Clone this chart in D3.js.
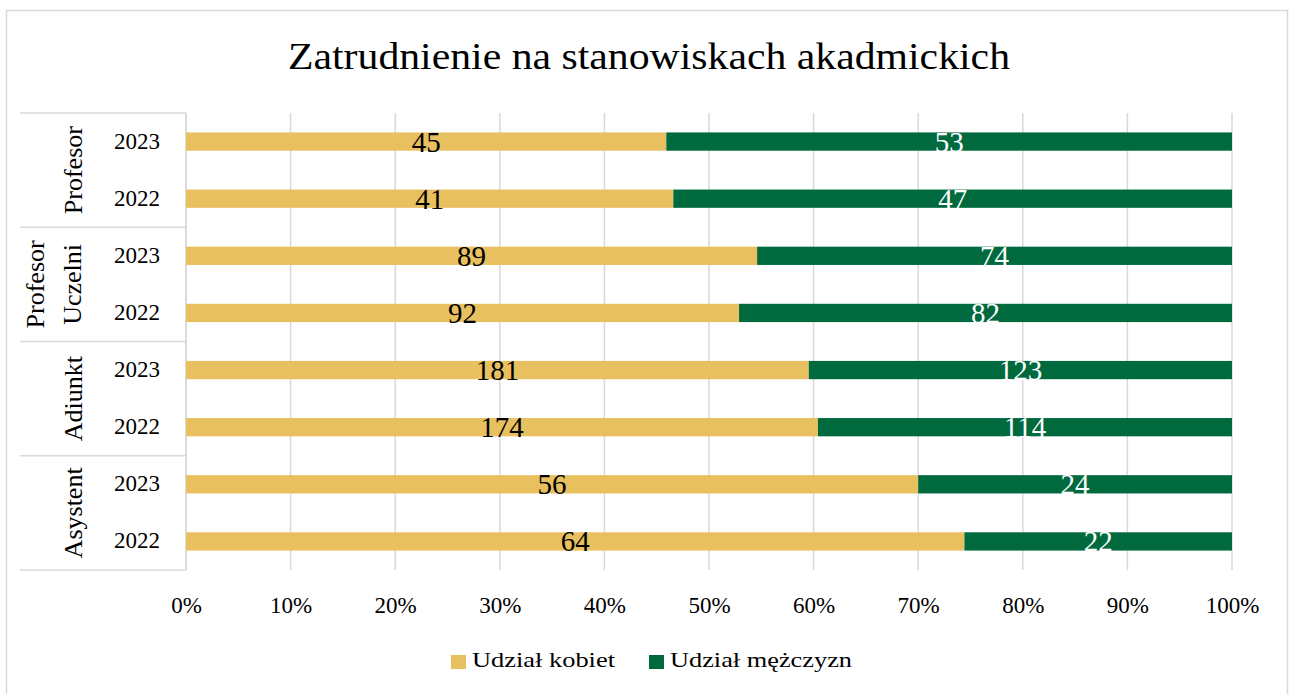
<!DOCTYPE html>
<html>
<head>
<meta charset="utf-8">
<script src="https://cdn.jsdelivr.net/npm/d3@7"></script>
<style>
  body { margin: 0; background: #fff; }
  text { font-family: "Palatino Linotype", "Book Antiqua", "Liberation Serif", serif; }
</style>
</head>
<body>
<svg id="chart" width="1289" height="694"></svg>
<script>
// dane wykresu
var groups = ["Profesor", "Profesor Uczelni", "Adiunkt", "Asystent"];
var years = ["2023", "2022"];
var kobiety = [45, 41, 89, 92, 181, 174, 56, 64];
var mezczyzni = [53, 47, 74, 82, 123, 114, 24, 22];
var ticks = [0, 0.1, 0.2, 0.3, 0.4, 0.5, 0.6, 0.7, 0.8, 0.9, 1];
var seriesNames = ["Udział kobiet", "Udział mężczyzn"];
var colors = ["#E9C05F", "#006A3E"];

var svg = d3.select("#chart");
var m = {l: 186, r: 1232, t: 113, b: 570};

// ramka
svg.append("rect").attr("x", 6.5).attr("y", 10.5).attr("width", 1281).attr("height", 700)
    .attr("fill", "#fff").attr("stroke", "#d9d9d9").attr("stroke-width", 1.5);

// tytul (Palatino jest szerszy, wiec dopasowanie szerokosci)
svg.append("text").attr("x", 649).attr("y", 69).attr("text-anchor", "middle")
    .attr("font-size", 38).attr("fill", "#000")
    .attr("textLength", 722).attr("lengthAdjust", "spacingAndGlyphs")
    .text("Zatrudnienie na stanowiskach akadmickich");

// wiersze: grupa + rok
var rows = [];
groups.forEach(function (g, gi) {
    years.forEach(function (y, yi) {
        var i = gi * 2 + yi;
        rows.push({key: i, group: g, year: y, k: kobiety[i], m: mezczyzni[i]});
    });
});

var x = d3.scaleLinear().domain([0, 1]).range([m.l, m.r]);
var y = d3.scaleBand().domain(rows.map(function (d) { return d.key; })).range([m.t, m.b]).paddingInner(0.68).paddingOuter(0.34);

// siatka
svg.append("g").selectAll("line").data(ticks).enter().append("line")
    .attr("x1", function (d) { return x(d); }).attr("x2", function (d) { return x(d); })
    .attr("y1", m.t).attr("y2", m.b)
    .attr("stroke", "#d9d9d9").attr("stroke-width", 1.5);

// os X
var xAxis = d3.axisBottom(x).tickValues(ticks).tickFormat(d3.format(".0%")).tickSize(0).tickPadding(0);
var gx = svg.append("g").attr("transform", "translate(0," + (m.b + 43) + ")").call(xAxis);
gx.select(".domain").remove();
gx.selectAll("text").attr("font-size", 23).attr("fill", "#000").attr("dy", 0)
    .attr("font-family", "Liberation Serif, serif");

// separatory kategorii
var bandH = (m.b - m.t) / groups.length;
var sep = svg.append("g").attr("stroke", "#d9d9d9").attr("stroke-width", 1.5);
d3.range(groups.length + 1).forEach(function (i) {
    sep.append("line").attr("x1", 20).attr("x2", m.l).attr("y1", m.t + i * bandH).attr("y2", m.t + i * bandH);
});
sep.append("line").attr("x1", m.l).attr("x2", m.l).attr("y1", m.t).attr("y2", m.b);

// etykiety lat
svg.append("g").selectAll("text").data(rows).enter().append("text")
    .attr("x", 137).attr("y", function (d) { return y(d.key) + y.bandwidth() / 2 + 7; })
    .attr("text-anchor", "middle").attr("font-size", 23).attr("fill", "#000")
    .text(function (d) { return d.year; });

// etykiety grup (pionowe)
groups.forEach(function (g, gi) {
    var cy = m.t + gi * bandH + bandH / 2;
    var words = g.split(" ");
    var t = svg.append("text").attr("transform", "translate(82," + cy + ") rotate(-90)")
        .attr("text-anchor", "middle").attr("font-size", 26).attr("fill", "#000");
    if (words.length == 1) {
        t.text(g);
    } else {
        t.attr("transform", "translate(44," + cy + ") rotate(-90)");
        words.forEach(function (w, wi) {
            t.append("tspan").attr("x", 0).attr("y", wi * 37).text(w);
        });
    }
});

// slupki
var stack = rows.map(function (d) {
    var s = d.k + d.m;
    return [
        {row: d, s: 0, x0: 0, x1: d.k / s, v: d.k},
        {row: d, s: 1, x0: d.k / s, x1: 1, v: d.m}
    ];
});
var segs = [].concat.apply([], stack);

svg.append("g").selectAll("rect").data(segs).enter().append("rect")
    .attr("x", function (d) { return x(d.x0); })
    .attr("width", function (d) { return x(d.x1) - x(d.x0); })
    .attr("y", function (d) { return y(d.row.key); })
    .attr("height", y.bandwidth())
    .attr("fill", function (d) { return colors[d.s]; });

svg.append("g").selectAll("text").data(segs).enter().append("text")
    .attr("x", function (d) { return (x(d.x0) + x(d.x1)) / 2; })
    .attr("y", function (d) { return y(d.row.key) + y.bandwidth() / 2 + 10; })
    .attr("text-anchor", "middle").attr("font-size", 29)
    .attr("fill", function (d) { return d.s == 0 ? "#000" : "#fff"; })
    .text(function (d) { return d.v; });

// legenda
var leg = svg.append("g");
var legX = [451, 649], legW = [143, 182];
seriesNames.forEach(function (n, i) {
    leg.append("rect").attr("x", legX[i]).attr("y", 655).attr("width", 15).attr("height", 14).attr("fill", colors[i]);
    leg.append("text").attr("x", legX[i] + 21).attr("y", 667).attr("font-size", 22).attr("fill", "#000")
        .attr("textLength", legW[i]).attr("lengthAdjust", "spacingAndGlyphs").text(n);
});
</script>
</body>
</html>
